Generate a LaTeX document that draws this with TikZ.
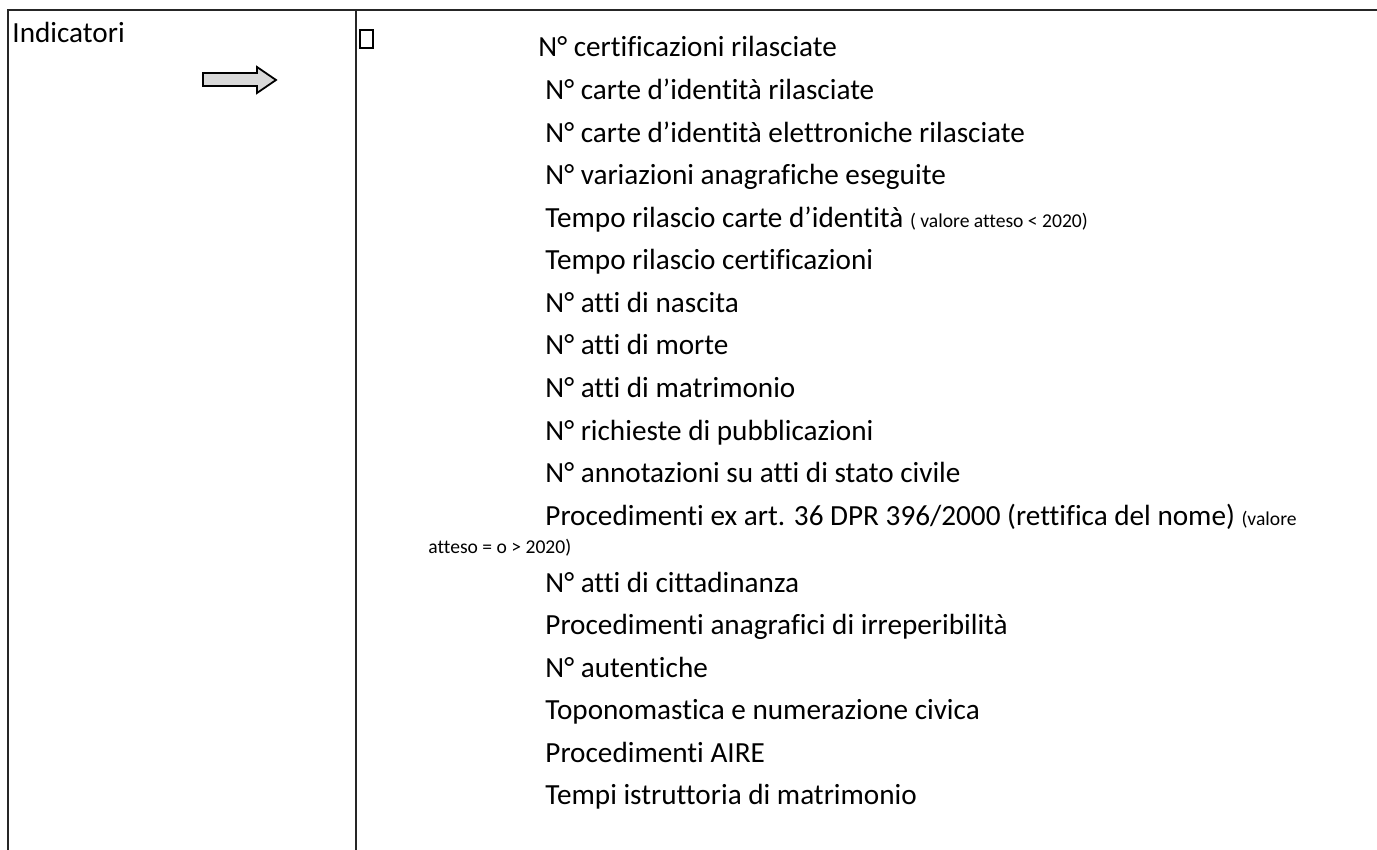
\documentclass[tikz,border=0pt]{standalone}
\usepackage{fontspec}
\setmainfont[Ligatures=NoCommon]{Carlito}
\usepackage{tikz}
\usepackage{xcolor}
\tikzset{
    table-rule/.style = {draw=black!85, line width=0.6pt},
    cell-text/.style = {anchor=base west, inner sep=0pt, font=\fontsize{14.6}{17}\selectfont},
    note-text/.style = {anchor=base west, inner sep=0pt, font=\fontsize{9.8}{12}\selectfont},
    block-arrow/.style = {draw=black, fill=black!15, line width=0.9pt, line join=miter},
    tofu-box/.style = {draw=black, line width=0.7pt, rectangle, inner sep=0pt, minimum width=6.5pt, minimum height=9pt},
}
\newcommand{\notesize}[1]{{\fontsize{9.8}{12}\selectfont #1}}

\begin{document}
\begin{tikzpicture}[x=0.5pt,y=-0.5pt]
\useasboundingbox (0,0) rectangle (1377,850);
% table rules
\draw[table-rule] (8,850) -- (8,10) -- (1377,10);
\draw[table-rule] (356,10) -- (356,850);
% left cell
\node[cell-text] (title) at (12,43) {Indicatori};
\draw[block-arrow] (203,73) -- (257,73) -- (257,67) -- (276,80) -- (257,93) -- (257,86) -- (203,86) -- cycle;
% right cell
\node[tofu-box] (tofu) at (366.5,39) {};
\node[cell-text] (ind1) at (538,57) {N° certificazioni rilasciate};
\node[cell-text] (ind2) at (545,100) {N° carte d’identità rilasciate};
\node[cell-text] (ind3) at (545,142.5) {N° carte d’identità elettroniche rilasciate};
\node[cell-text] (ind4) at (545,185) {N° variazioni anagrafiche eseguite};
\node[cell-text] (ind5) at (545,227.5) {Tempo rilascio carte d’identità \notesize{( valore atteso < 2020)}};
\node[cell-text] (ind6) at (545,270) {Tempo rilascio certificazioni};
\node[cell-text] (ind7) at (545,312.5) {N° atti di nascita};
\node[cell-text] (ind8) at (545,355) {N° atti di morte};
\node[cell-text] (ind9) at (545,397.5) {N° atti di matrimonio};
\node[cell-text] (ind10) at (545,440) {N° richieste di pubblicazioni};
\node[cell-text] (ind11) at (545,482.5) {N° annotazioni su atti di stato civile};
\node[cell-text] (ind12) at (545,525) {Procedimenti ex art. 36 DPR 396/2000 (rettifica del nome) \notesize{(valore}};
\node[note-text] (note12) at (428,553) {atteso = o > 2020)};
\node[cell-text] (ind13) at (545,592) {N° atti di cittadinanza};
\node[cell-text] (ind14) at (545,634.5) {Procedimenti anagrafici di irreperibilità};
\node[cell-text] (ind15) at (545,677) {N° autentiche};
\node[cell-text] (ind16) at (545,719.5) {Toponomastica e numerazione civica};
\node[cell-text] (ind17) at (545,762) {Procedimenti AIRE};
\node[cell-text] (ind18) at (545,804.5) {Tempi istruttoria di matrimonio};
\end{tikzpicture}
\end{document}
